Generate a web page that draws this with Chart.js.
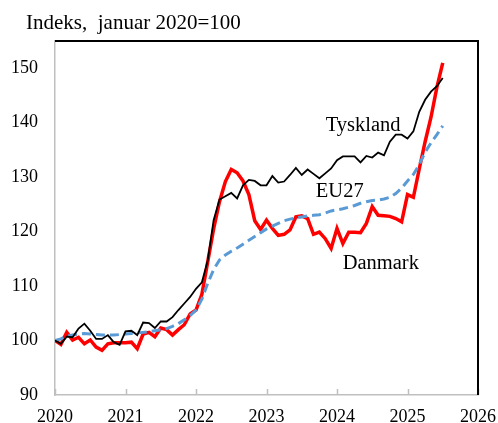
<!DOCTYPE html>
<html>
<head>
<meta charset="utf-8">
<script src="https://cdn.jsdelivr.net/npm/chart.js@4"></script>
<style>
  html, body { margin: 0; padding: 0; background: #fff; }
  canvas { display: block; }
</style>
</head>
<body>
<canvas id="c" width="498" height="423"></canvas>
<script>
// Monthly index values, January 2020 = 100 (Jan 2020 ... Jul 2025)
const startYear = 2020;
const tickYears = [2020, 2021, 2022, 2023, 2024, 2025, 2026];
const titleText = 'Indeks,  januar 2020=100';

const tyskland = [
  100.0, 99.4, 100.7, 100.6, 102.2, 103.1, 101.8, 100.3, 100.3, 101.0, 99.7, 99.2,
  101.7, 101.8, 101.0, 103.3, 103.2, 102.3, 103.5, 103.5, 104.3, 105.6, 106.8, 108.0,
  109.5, 110.7, 114.7, 122.1, 125.9, 126.5, 127.1, 126.1, 128.5, 129.5, 129.3, 128.5,
  128.5, 130.2, 129.0, 129.2, 130.4, 131.7, 130.4, 131.4, 130.6, 129.8, 130.7, 131.6,
  133.1, 133.8, 133.8, 133.8, 132.7, 133.9, 133.6, 134.5, 134.0, 136.5, 137.8, 137.8,
  137.1, 138.4, 142.0, 144.2, 145.7, 146.7, 148.2
];
const danmark = [
  100.0, 99.3, 101.5, 100.1, 100.6, 99.4, 100.1, 98.8, 98.2, 99.4, 99.6, 99.6,
  99.6, 99.7, 98.5, 101.2, 101.5, 100.7, 102.3, 102.0, 101.0, 102.0, 102.9, 104.9,
  105.6, 108.5, 114.5, 120.5, 125.5, 129.2, 131.4, 130.8, 129.3, 126.8, 122.0, 120.4,
  122.1, 120.6, 119.3, 119.5, 120.3, 122.7, 122.9, 122.4, 119.5, 119.9, 118.7, 116.9,
  120.6, 117.8, 119.9, 119.9, 119.8, 121.5, 124.6, 123.0, 122.9, 122.8, 122.4, 121.8,
  126.8, 126.3, 131.5, 136.5, 141.0, 146.5, 151.0
];
const eu27 = [
  100.0, 100.3, 100.8, 101.0, 101.2, 101.3, 101.2, 101.1, 101.0, 101.0, 101.0, 101.1,
  101.2, 101.3, 101.4, 101.5, 101.6, 101.8, 102.0, 102.2, 102.6, 103.1, 103.8, 104.6,
  105.6, 107.6, 110.5, 113.0, 114.8, 115.7, 116.4, 117.0, 117.7, 118.4, 119.1, 119.8,
  120.5, 121.0, 121.5, 122.0, 122.3, 122.5, 122.7, 122.9, 123.0, 123.1, 123.4, 123.8,
  124.0, 124.2, 124.5, 124.8, 125.2, 125.5, 125.7, 125.8, 126.0, 126.3, 127.0, 128.0,
  129.3, 130.5, 132.3, 134.6, 136.3, 137.8, 139.4
];

// Series labels, anchored in data units (year, index)
const seriesLabels = [
  { text: 'Tyskland', x: 2023.84, y: 138.4 },
  { text: 'EU27',     x: 2023.70, y: 126.4 },
  { text: 'Danmark',  x: 2024.08, y: 113.2 }
];

const toPoints = arr => arr.map((v, i) => ({ x: startYear + i / 12, y: v }));

const FONT = "'Liberation Serif', 'Times New Roman', serif";

const decorPlugin = {
  id: 'decor',
  afterDraw(chart) {
    const { ctx, chartArea, scales } = chart;
    ctx.save();
    // inward tick marks on x axis
    ctx.strokeStyle = '#bfbfbf';
    ctx.lineWidth = 1.5;
    tickYears.forEach(y => {
      const px = Math.round(scales.x.getPixelForValue(y)) + 0.5;
      ctx.beginPath();
      ctx.moveTo(px, chartArea.bottom);
      ctx.lineTo(px, chartArea.bottom - 6);
      ctx.stroke();
    });
    // top and right frame
    ctx.strokeStyle = '#000';
    ctx.lineWidth = 2;
    ctx.beginPath();
    ctx.moveTo(chartArea.left, chartArea.top);
    ctx.lineTo(chartArea.right, chartArea.top);
    ctx.lineTo(chartArea.right, chartArea.bottom);
    ctx.stroke();
    // title
    ctx.fillStyle = '#000';
    ctx.font = '21px ' + FONT;
    ctx.textAlign = 'left';
    ctx.textBaseline = 'alphabetic';
    ctx.fillText(titleText, 26, 29);
    // series labels
    ctx.font = '20.5px ' + FONT;
    seriesLabels.forEach(l => {
      ctx.fillText(l.text, scales.x.getPixelForValue(l.x), scales.y.getPixelForValue(l.y));
    });
    ctx.restore();
  }
};

new Chart(document.getElementById('c'), {
  type: 'line',
  data: {
    datasets: [
      { label: 'Danmark', data: toPoints(danmark), borderColor: '#ff0000', borderWidth: 3.5, pointRadius: 0, tension: 0, order: 3 },
      { label: 'EU27', data: toPoints(eu27), borderColor: '#5b9bd5', borderWidth: 3, borderDash: [9, 5], pointRadius: 0, tension: 0, order: 2 },
      { label: 'Tyskland', data: toPoints(tyskland), borderColor: '#000000', borderWidth: 1.8, pointRadius: 0, tension: 0, order: 1 }
    ]
  },
  options: {
    responsive: false,
    animation: false,
    devicePixelRatio: 1,
    layout: { padding: { top: 41, right: 20, left: 0, bottom: 0 } },
    plugins: { legend: { display: false }, tooltip: { enabled: false }, title: { display: false } },
    scales: {
      x: {
        type: 'linear',
        min: 2020, max: 2026,
        grid: { display: false, drawTicks: false },
        border: { display: true, color: '#bfbfbf', width: 1.5 },
        ticks: {
          stepSize: 1, includeBounds: false, maxRotation: 0, autoSkip: false,
          color: '#000', font: { family: FONT, size: 18 }, padding: 11,
          callback: v => String(v)
        },
        afterFit: s => { s.height = 28; s.paddingLeft = 0; s.paddingRight = 0; }
      },
      y: {
        type: 'linear',
        min: 90, max: 155,
        grid: { display: false, drawTicks: false },
        border: { display: true, color: '#bfbfbf', width: 1.5 },
        ticks: {
          stepSize: 10, includeBounds: false, autoSkip: false,
          color: '#000', font: { family: FONT, size: 18 }, padding: 17,
          callback: v => String(v)
        },
        afterFit: s => { s.width = 55; s.paddingTop = 0; s.paddingBottom = 0; }
      }
    }
  },
  plugins: [decorPlugin]
});
</script>
</body>
</html>
